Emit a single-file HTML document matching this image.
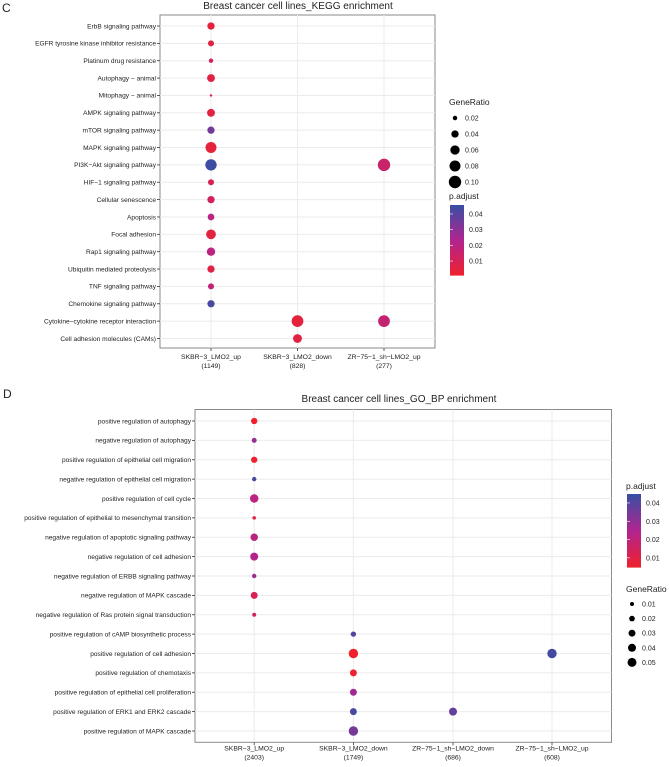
<!DOCTYPE html>
<html><head><meta charset="utf-8"><style>
body{margin:0;background:#fff;width:670px;height:762px;overflow:hidden}
svg text{font-family:"Liberation Sans",sans-serif;fill:#222}
</style></head><body>
<svg id="s" width="670" height="762">
<text x="2" y="12" font-size="12">C</text>
<text x="298" y="9" font-size="10" text-anchor="middle">Breast cancer cell lines_KEGG enrichment</text>
<text x="3" y="398" font-size="12">D</text>
<text x="399" y="402" font-size="10" text-anchor="middle">Breast cancer cell lines_GO_BP enrichment</text>
</svg>
<script>
const keggTerms=["ErbB signaling pathway","EGFR tyrosine kinase inhibitor resistance","Platinum drug resistance","Autophagy − animal","Mitophagy − animal","AMPK signaling pathway","mTOR signaling pathway","MAPK signaling pathway","PI3K−Akt signaling pathway","HIF−1 signaling pathway","Cellular senescence","Apoptosis","Focal adhesion","Rap1 signaling pathway","Ubiquitin mediated proteolysis","TNF signaling pathway","Chemokine signaling pathway","Cytokine−cytokine receptor interaction","Cell adhesion molecules (CAMs)"];
const keggGroups=["SKBR−3_LMO2_up","SKBR−3_LMO2_down","ZR−75−1_sh−LMO2_up"];
const keggCounts=["(1149)","(828)","(277)"];
const keggRow=[0,1,2,3,4,5,6,7,8,8,9,10,11,12,13,14,15,16,17,17,18];
const keggCol=[0,0,0,0,0,0,0,0,0,2,0,0,0,0,0,0,0,0,1,2,1];
const keggRatio=[.04,.03,.02,.045,.012,.045,.04,.08,.085,.10,.03,.04,.035,.065,.05,.04,.03,.04,.09,.09,.055];
const keggPadj=[.005,.006,.012,.006,.008,.006,.035,.005,.045,.015,.01,.012,.02,.006,.02,.007,.018,.043,.005,.017,.006];
const keggSizeTicks=[0.02,0.04,0.06,0.08,0.10];
const keggColorTicks=[0.04,0.03,0.02,0.01];

const goTerms=["positive regulation of autophagy","negative regulation of autophagy","positive regulation of epithelial cell migration","negative regulation of epithelial cell migration","positive regulation of cell cycle","positive regulation of epithelial to mesenchymal transition","negative regulation of apoptotic signaling pathway","negative regulation of cell adhesion","negative regulation of ERBB signaling pathway","negative regulation of MAPK cascade","negative regulation of Ras protein signal transduction","positive regulation of cAMP biosynthetic process","positive regulation of cell adhesion","positive regulation of chemotaxis","positive regulation of epithelial cell proliferation","positive regulation of ERK1 and ERK2 cascade","positive regulation of MAPK cascade"];
const goGroups=["SKBR−3_LMO2_up","SKBR−3_LMO2_down","ZR−75−1_sh−LMO2_down","ZR−75−1_sh−LMO2_up"];
const goCounts=["(2403)","(1749)","(686)","(608)"];
const goRow=[0,1,2,3,4,5,6,7,8,9,10,11,12,12,13,14,15,15,16];
const goCol=[0,0,0,0,0,0,0,0,0,0,0,1,1,3,1,1,1,2,1];
const goRatio=[.025,.015,.025,.012,.045,.008,.035,.04,.012,.03,.01,.018,.055,.055,.03,.03,.03,.04,.055];
const goPadj=[.005,.03,.006,.042,.022,.01,.022,.024,.028,.013,.015,.04,.005,.043,.006,.028,.042,.038,.035];
const goSizeTicks=[0.01,0.02,0.03,0.04,0.05];
const goColorTicks=[0.04,0.03,0.02,0.01];

const NS="http://www.w3.org/2000/svg";
const svg=document.getElementById('s');
function el(t,a,txt){const e=document.createElementNS(NS,t);for(const k in a)e.setAttribute(k,a[k]);if(txt!==undefined)e.textContent=txt;svg.appendChild(e);return e;}
function lerp(a,b,t){return a.map((v,i)=>Math.round(v+(b[i]-v)*t));}
function color(t){t=Math.max(0,Math.min(1,t));const R=[240,33,43],M=[178,36,142],B=[58,78,163];
 const c=t<.5?lerp(R,M,t*2):lerp(M,B,(t-.5)*2);return `rgb(${c})`;}

function chart(o){
 const {terms,groups,counts,row,col,ratio,padj,px0,px1,py0,py1,y0,y1,x,rA,rB,cMin,cMax}=o;
 const yS=i=>y0+(y1-y0)*i/(terms.length-1);
 const xS=j=>x[j];
 const rS=v=>Math.sqrt(Math.max(1,rA+rB*v));
 const cS=v=>color((v-cMin)/(cMax-cMin));
 let e=el('rect',{x:px0,y:py0,width:px1-px0,height:py1-py0,fill:'#fff',stroke:'#8a8a8a','stroke-width':1});
 
 terms.forEach((t,i)=>{
  e=el('line',{x1:px0,x2:px1,y1:yS(i),y2:yS(i),stroke:'#ebebeb','stroke-width':1});
  
  e=el('line',{x1:px0-3,x2:px0,y1:yS(i),y2:yS(i),stroke:'#333','stroke-width':.8});
  
  e=el('text',{x:px0-4,y:yS(i)+2.3,'font-size':6.6,'text-anchor':'end'},t);
  
 });
 groups.forEach((g,j)=>{
  e=el('line',{x1:xS(j),x2:xS(j),y1:py0,y2:py1,stroke:'#ebebeb','stroke-width':1});
  
  e=el('line',{x1:xS(j),x2:xS(j),y1:py1,y2:py1+3,stroke:'#333','stroke-width':.8});
  
  e=el('text',{x:xS(j),y:py1+o.xl1,'font-size':6.8,'text-anchor':'middle'},g);
  
  e=el('text',{x:xS(j),y:py1+o.xl2,'font-size':6.8,'text-anchor':'middle'},counts[j]);
  
 });
 row.forEach((r,k)=>{
  e=el('circle',{cx:xS(col[k]),cy:yS(r),r:rS(ratio[k]),fill:cS(padj[k])});
  
 });
 e=el('text',{x:o.sx,y:o.sy,'font-size':8.5},'GeneRatio');
 
 o.sizeTicks.forEach((v,i)=>{const yy=o.sy+o.sy0+i*o.sdy;
  e=el('circle',{cx:o.sx+6,cy:yy,r:rS(v),fill:'#000'});
  
  e=el('text',{x:o.sx+16,y:yy+2.5,'font-size':7},v.toFixed(2));
  
 });
 e=el('text',{x:o.cx,y:o.cy,'font-size':8.5},'p.adjust');
 
 const by0=o.cy+o.cgap,by1=by0+o.ch;
 for(let i=0;i<40;i++){const t=1-i/40;
  e=el('rect',{x:o.cx+1,y:by0+o.ch*i/40,width:14,height:o.ch/40+.6,fill:color(t)});
  }
 o.colorTicks.forEach(v=>{const yy=by1-(v-cMin)/(cMax-cMin)*o.ch;
  e=el('line',{x1:o.cx+1,x2:o.cx+4,y1:yy,y2:yy,stroke:'#fff','stroke-width':.6});
  
  e=el('text',{x:o.cx+20,y:yy+2.5,'font-size':7},v.toFixed(2));
  
 });
}
chart({name:'kegg',terms:keggTerms,groups:keggGroups,counts:keggCounts,row:keggRow,col:keggCol,ratio:keggRatio,padj:keggPadj,
 px0:160,px1:435,py0:15,py1:348,y0:26,y1:338.5,x:[211,297.5,384],rA:-3.5,rB:420,cMin:0.0011,cMax:0.0457,xl1:11,xl2:20,
 sx:449,sy:105,sy0:13,sdy:16,sizeTicks:keggSizeTicks,cx:449,cy:199,cgap:6,ch:70,colorTicks:keggColorTicks});
chart({name:'gobp',terms:goTerms,groups:goGroups,counts:goCounts,row:goRow,col:goCol,ratio:goRatio,padj:goPadj,
 px0:195,px1:611.5,py0:409.5,py1:742.3,y0:421,y1:731,x:[254.2,353.4,453,552],rA:0,rB:400,cMin:0.005,cMax:0.0449,xl1:8,xl2:17,
 sx:626,sy:592,sy0:12,sdy:14.6,sizeTicks:goSizeTicks,cx:626,cy:489,cgap:5,ch:73,colorTicks:goColorTicks});
</script>
</body></html>
